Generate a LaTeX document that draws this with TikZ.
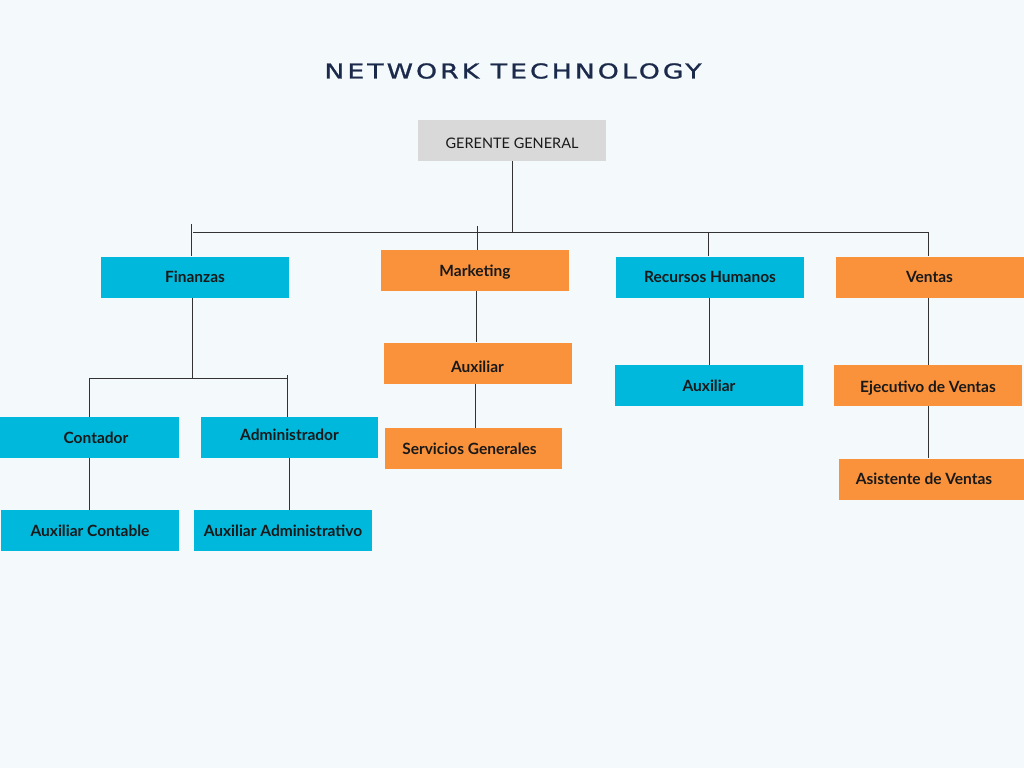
\documentclass[tikz,border=0pt]{standalone}
\usepackage{fontspec}
\setmainfont{Lato}
\newfontfamily\titlefont[LetterSpace=15,FakeStretch=1.3,FakeBold=1.2]{DejaVu Sans}
\definecolor{bgcol}{HTML}{F4F9FC}
\definecolor{cyanbox}{HTML}{00B8DC}
\definecolor{orangebox}{HTML}{FA923C}
\definecolor{graybox}{HTML}{D9D9D9}
\definecolor{navy}{HTML}{1B2A4A}
\definecolor{linecol}{HTML}{333333}

\begin{document}
\begin{tikzpicture}[x=1pt,y=-1pt]
      \tikzstyle{unit}=[rectangle,minimum width=188pt,minimum height=41pt,inner sep=0pt,text height=11pt,text depth=0pt,font=\fontsize{15.5}{17}\selectfont\bfseries,text=black!90]
      \tikzstyle{blue unit}=[unit,fill=cyanbox]
      \tikzstyle{orange unit}=[unit,fill=orangebox]
      \tikzstyle{link}=[draw=linecol,line width=1pt]
      \fill[bgcol] (0,0) rectangle (1024,768);
      \useasboundingbox (0,0) rectangle (1024,768);
      \node[font=\titlefont\fontsize{20.5}{24}\selectfont,text=navy] (title) at (513,71) {NETWORK TECHNOLOGY};
      \node[unit,fill=graybox,text height=10.5pt,font=\fontsize{14.5}{16}\selectfont] (gg) at (512,140.5) {\raisebox{-2.5pt}{GERENTE GENERAL}};
      % second level
      \node[blue unit]   (fin) at (195,277)   {Finanzas};
      \node[orange unit] (mkt) at (475,270.5) {Marketing};
      \node[blue unit]   (rh)  at (710,277)   {Recursos Humanos};
      \node[orange unit] (ven) at (929.5,277) {Ventas};
      % finanzas branch
      \node[blue unit,minimum width=179pt]  (cont) at (89.5,437.5) {\hspace*{13pt}Contador};
      \node[blue unit,minimum width=177pt]  (adm)  at (289.5,437.5) {\raisebox{2.5pt}{Administrador}};
      \node[blue unit,minimum width=178pt]  (auxc) at (90,530.5)  {Auxiliar Contable};
      \node[blue unit,minimum width=178pt]  (auxa) at (283,530.5) {Auxiliar Administrativo};
      % marketing branch
      \node[orange unit] (auxm) at (477.5,363) {\raisebox{-4pt}{Auxiliar}};
      \node[orange unit,minimum width=177pt] (serv) at (473.5,448.5) {Servicios Generales\hspace*{8pt}};
      % recursos humanos branch
      \node[blue unit]   (auxr) at (709,385.5) {Auxiliar};
      % ventas branch
      \node[orange unit] (ejec) at (928,385.5) {\raisebox{-1.5pt}{Ejecutivo de Ventas}};
      \node[orange unit,minimum width=185pt] (asis) at (931.5,479) {Asistente de Ventas\hspace*{15pt}};
      % bus lines
      \coordinate (busL) at (193,232);
      \coordinate (busR) at (929,232);
      \coordinate (finT) at (191,224);
      \coordinate (mktT) at (477,226);
      \coordinate (subL) at (89,378);
      \coordinate (subR) at (287,378);
      \coordinate (subT) at (287,375);
      \draw[link] (busL) -- (busR);
      \draw[link] (gg) -- (gg |- busR);
      \draw[link] (finT) -- (finT |- fin.north);
      \draw[link] (mktT) -- (mktT |- mkt.north);
      \draw[link] ([xshift=-2pt]rh.north |- busR) -- ([xshift=-2pt]rh.north);
      \draw[link] ([xshift=-1.5pt]ven.north |- busR) -- ([xshift=-1.5pt]ven.north);
      % finanzas
      \draw[link] ([xshift=-3pt]fin.south) -- ([xshift=-3pt]fin.south |- subL);
      \draw[link] (subL) -- (subR);
      \draw[link] (subL) -- (subL |- cont.north);
      \draw[link] (subT) -- (subT |- adm.north);
      \draw[link] (subL |- cont.south) -- (subL |- auxc.north);
      \draw[link] (adm.south) -- (adm.south |- auxa.north);
      % marketing
      \draw[link] ([xshift=1pt]mkt.south) -- ([xshift=1pt]mkt.south |- auxm.north);
      \draw[link] ([xshift=-2.5pt]auxm.south) -- ([xshift=-2.5pt]auxm.south |- serv.north);
      % recursos humanos
      \draw[link] ([xshift=-1pt]rh.south) -- ([xshift=-1pt]rh.south |- auxr.north);
      % ventas
      \draw[link] ([xshift=-1.5pt]ven.south) -- ([xshift=-1.5pt]ven.south |- ejec.north);
      \draw[link] (ejec.south) -- (ejec.south |- asis.north);
    \end{tikzpicture}
\end{document}
